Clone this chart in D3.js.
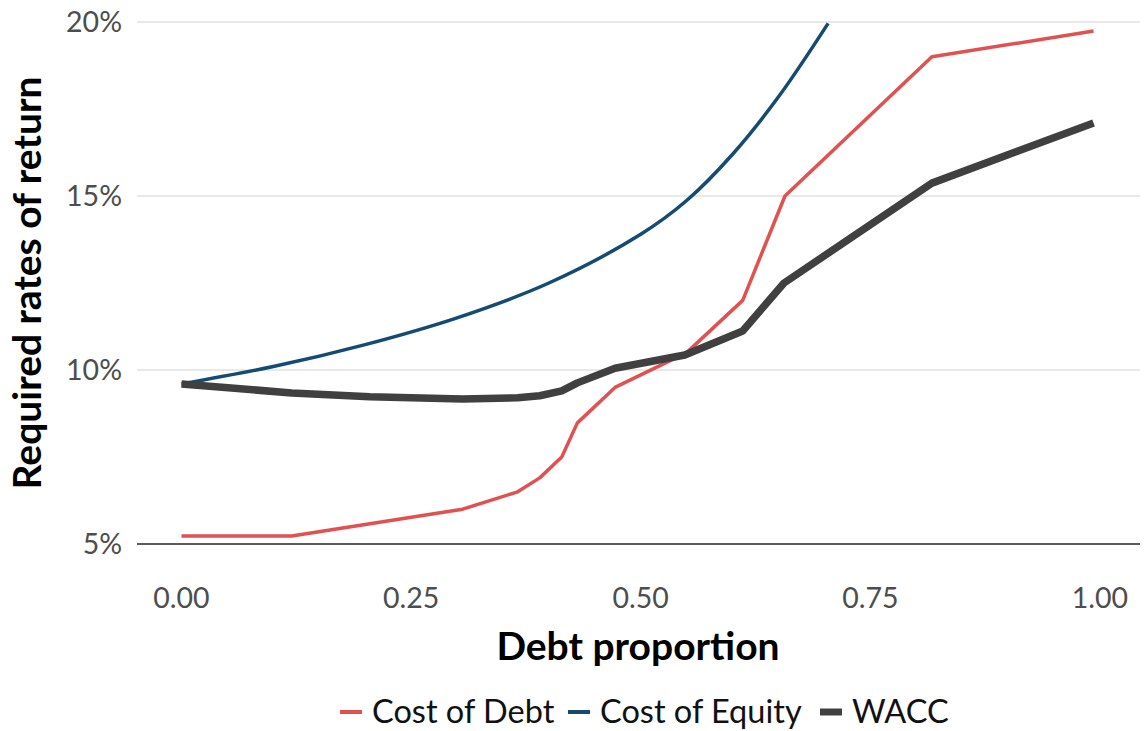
<!DOCTYPE html>
<html><head><meta charset="utf-8">
<script src="https://cdn.jsdelivr.net/npm/d3@7"></script>
<style>body{margin:0;background:#fff;} svg{display:block;font-family:Lato,'Open Sans',sans-serif;}</style>
</head><body><svg id="c" width="1144" height="731"></svg>
<script>
const xTicks = [0, 0.25, 0.5, 0.75, 1.0];
const yTicks = [5, 10, 15, 20];
const debtX = [0, 0.12, 0.306, 0.366, 0.39, 0.414, 0.431, 0.472, 0.55, 0.611, 0.657, 0.817, 0.993];
const debtY = [5.23, 5.23, 6.0, 6.5, 6.9, 7.5, 8.48, 9.5, 10.5, 12.0, 15.0, 19.0, 19.74];
const equityX = [0, 0.1, 0.2, 0.3, 0.4, 0.5, 0.55, 0.6, 0.65, 0.704];
const equityY = [9.6, 10.1, 10.73, 11.5, 12.5, 13.9, 14.87, 16.2, 17.85, 19.96];
const waccX = [0, 0.12, 0.205, 0.306, 0.366, 0.39, 0.414, 0.431, 0.472, 0.548, 0.611, 0.656, 0.817, 0.993];
const waccY = [9.6, 9.34, 9.23, 9.17, 9.2, 9.26, 9.4, 9.63, 10.05, 10.43, 11.12, 12.5, 15.37, 17.1];
const seriesNames = ["Cost of Debt", "Cost of Equity", "WACC"];
const colors = ["#e05252", "#154b73", "#404040"];
const widths = [3.5, 3.5, 7.5];

const svg = d3.select("#c");
const x = d3.scaleLinear().domain([0, 1]).range([181.5, 1100]);
const y = d3.scaleLinear().domain([5, 20]).range([544, 22]);
const gridL = 137, gridR = 1140;

svg.append("g").selectAll("line").data(yTicks.filter(d => d !== 5)).join("line")
  .attr("x1", gridL).attr("x2", gridR)
  .attr("y1", d => y(d)).attr("y2", d => y(d))
  .attr("stroke", "#d3d3d3").attr("stroke-width", 1.2);

svg.append("g").selectAll("text").data(yTicks).join("text")
  .attr("x", 122).attr("y", d => y(d)).attr("dy", "0.36em")
  .attr("text-anchor", "end").attr("font-size", 28.5).attr("fill", "#4d4d4d")
  .text(d => d + "%");

svg.append("g").selectAll("text").data(xTicks).join("text")
  .attr("x", d => x(d)).attr("y", 598).attr("dy", "0.36em")
  .attr("text-anchor", "middle").attr("font-size", 28.5).attr("fill", "#4d4d4d")
  .text(d => d3.format(".2f")(d));

svg.append("line").attr("x1", gridL).attr("x2", gridR).attr("y1", y(5)).attr("y2", y(5))
  .attr("stroke", "#5a5a5a").attr("stroke-width", 2);

const data = [
  debtX.map((v, i) => [v, debtY[i]]),
  equityX.map((v, i) => [v, equityY[i]]),
  waccX.map((v, i) => [v, waccY[i]])
];
const curves = [d3.curveLinear, d3.curveCatmullRom, d3.curveLinear];
data.forEach((pts, i) => {
  svg.append("path").datum(pts)
    .attr("d", d3.line().x(d => x(d[0])).y(d => y(d[1])).curve(curves[i]))
    .attr("fill", "none").attr("stroke", colors[i]).attr("stroke-width", widths[i])
    .attr("stroke-linejoin", "round");
});

svg.append("text").attr("x", 638).attr("y", 646).attr("dy", "0.36em")
  .attr("text-anchor", "middle").attr("font-size", 39).attr("font-weight", "bold").attr("fill", "#000")
  .text("Debt proportion");
svg.append("text").attr("transform", "translate(27,283) rotate(-90)").attr("dy", "0.36em")
  .attr("text-anchor", "middle").attr("font-size", 39).attr("font-weight", "bold").attr("fill", "#000")
  .text("Required rates of return");

const legX = [340, 568, 820];
const lg = svg.append("g");
seriesNames.forEach((n, i) => {
  lg.append("line").attr("x1", legX[i]).attr("x2", legX[i] + 22).attr("y1", 712).attr("y2", 712)
    .attr("stroke", colors[i]).attr("stroke-width", i === 2 ? 7 : 4);
  lg.append("text").attr("x", legX[i] + 32).attr("y", 723)
    .attr("font-size", 32.5).attr("fill", "#111").text(n);
});
</script></body></html>
